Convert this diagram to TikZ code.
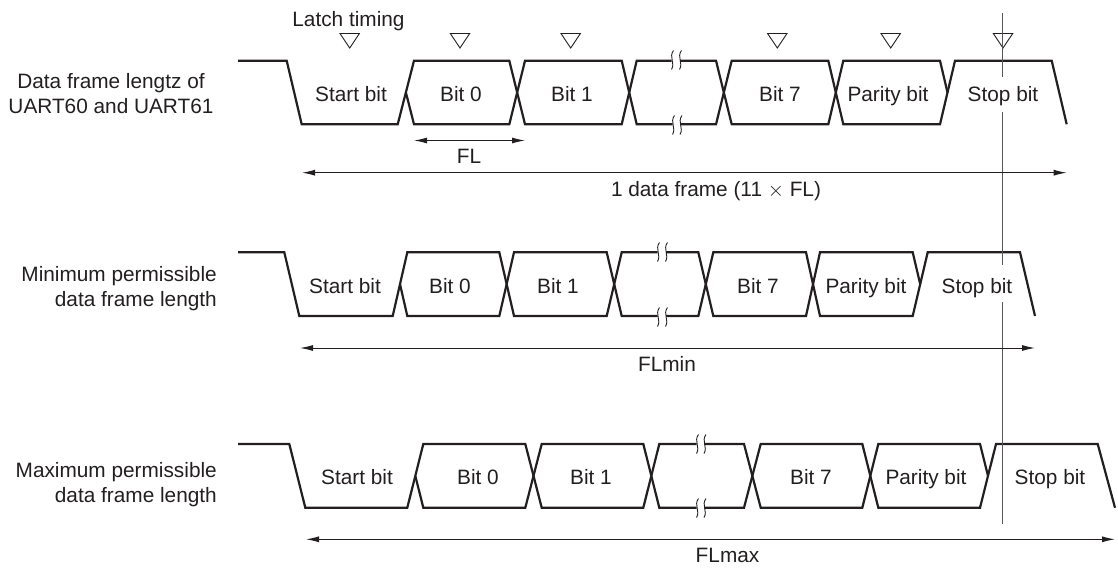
\documentclass[tikz,border=0pt]{standalone}
\usepackage{fontspec}
\setmainfont{Liberation Sans}
\usetikzlibrary{arrows.meta}
\definecolor{ink}{HTML}{231F20}
\tikzset{
  sig/.style={draw=ink,line width=2.2pt,line join=miter,line cap=butt},
  brk/.style={draw=ink,line width=0.9pt},
  tri/.style={draw=ink,line width=0.9pt,line join=miter},
  dim/.style={draw=ink,line width=1pt,{Latex[length=13pt,width=6pt]}-{Latex[length=13pt,width=6pt]}},
  cursor/.style={draw=ink!75,line width=1.2pt},
  lab/.style={anchor=base,inner sep=0pt,text=ink,font=\fontsize{20.8}{25}\selectfont},
  rlab/.style={lab,anchor=base east},
}
\newcommand{\breakmark}[2]{%
  \draw[brk] (#1+1.5,#2-9.5) .. controls (#1-3.5,#2-3) and (#1+3.5,#2+3) .. (#1-0.5,#2+9.5);}
\newcommand{\latch}[1]{\draw[tri] (#1-9.7,33.5) -- (#1+9.7,33.5) -- (#1,48) -- cycle;}
\begin{document}
\begin{tikzpicture}[x=1pt,y=-1pt]
\useasboundingbox (0,0) rectangle (1118,568);
% ---- row 1
\def\T{60.7}\def\B{124.3}\def\M{92.5}
\draw[sig] (238,\T)--(286.7,\T)--(301.7,\B)--(397.7,\B)--(414,\T)--(509.3,\T)--(525,\B)--(621.7,\B)--(636.7,\T)--(671.5,\T);
\draw[sig] (405.9,\M)--(414,\B)--(509.3,\B)--(525,\T)--(621.7,\T)--(636.7,\B)--(672.5,\B);
\draw[sig] (680,\T)--(716,\T)--(731.7,\B)--(828.3,\B)--(843.3,\T)--(940,\T)--(947.5,\M);
\draw[sig] (680.5,\B)--(716,\B)--(731.7,\T)--(828.3,\T)--(843.3,\B)--(940,\B)--(955,\T)--(1051.7,\T)--(1066.7,\B);
\breakmark{672}{60}\breakmark{680}{60}\breakmark{673}{125}\breakmark{680.5}{125}
% ---- row 2
\def\T{252.3}\def\B{316}\def\M{284.2}
\draw[sig] (238,\T)--(284.3,\T)--(299.3,\B)--(392.7,\B)--(407.3,\T)--(499.3,\T)--(514,\B)--(606.7,\B)--(621.7,\T)--(657.5,\T);
\draw[sig] (400,\M)--(407.3,\B)--(499.3,\B)--(514,\T)--(606.7,\T)--(621.7,\B)--(657.5,\B);
\draw[sig] (666,\T)--(698.3,\T)--(713.3,\B)--(806,\B)--(820,\T)--(912.7,\T)--(920.2,\M);
\draw[sig] (666,\B)--(698.3,\B)--(713.3,\T)--(806,\T)--(820,\B)--(912.7,\B)--(927.7,\T)--(1020,\T)--(1035,\B);
\breakmark{658}{252}\breakmark{666}{252}\breakmark{658}{317}\breakmark{666}{317}
% ---- row 3
\def\T{444}\def\B{507.7}\def\M{475.8}
\draw[sig] (238,\T)--(289.3,\T)--(305.3,\B)--(407.3,\B)--(423.3,\T)--(525.3,\T)--(541.7,\B)--(643.3,\B)--(659.3,\T)--(696.5,\T);
\draw[sig] (415.3,\M)--(423.3,\B)--(525.3,\B)--(541.7,\T)--(643.3,\T)--(659.3,\B)--(696.5,\B);
\draw[sig] (704.3,\T)--(744,\T)--(760.7,\B)--(862.3,\B)--(878.3,\T)--(980,\T)--(988,\M);
\draw[sig] (704.3,\B)--(744,\B)--(760.7,\T)--(862.3,\T)--(878.3,\B)--(980,\B)--(996,\T)--(1097.7,\T)--(1115,\B);
\breakmark{697}{444}\breakmark{704.5}{444}\breakmark{697}{508}\breakmark{704.5}{508}
% ---- latch triangles
\latch{349.7}\latch{460}\latch{570.7}\latch{777.3}\latch{890.7}\latch{1003}
% ---- cursor
\coordinate (c0) at (1002.7,13);
\coordinate (c1) at (1002.7,77);
\coordinate (c2) at (1002.7,111.5);
\coordinate (c3) at (1002.7,265);
\coordinate (c4) at (1002.7,302);
\coordinate (c5) at (1002.7,523.5);
\draw[cursor] (c0)--(c1);
\draw[cursor] (c2)--(c3);
\draw[cursor] (c4)--(c5);
% ---- dimension lines
\coordinate (fla) at (414,140.5);  \coordinate (flb) at (525,140.5);
\coordinate (dfa) at (302,172.7);  \coordinate (dfb) at (1066.7,172.7);
\coordinate (mna) at (300,348);    \coordinate (mnb) at (1035,348);
\coordinate (mxa) at (306,539.3);  \coordinate (mxb) at (1115,539.3);
\draw[dim] (fla)--(flb);
\draw[dim] (dfa)--(dfb);
\draw[dim] (mna)--(mnb);
\draw[dim] (mxa)--(mxb);
% ---- texts
\node[lab] (latchT) at (348.5,26) {Latch timing};
\node[lab] (s1) at (351,101) {Start bit};
\node[lab] (b01) at (461,101) {Bit 0};
\node[lab] (b11) at (572,101) {Bit 1};
\node[lab] (b71) at (780,101) {Bit 7};
\node[lab] (p1) at (888,101) {Parity bit};
\node[lab] (st1) at (1003,101) {Stop bit};
\node[lab] (s2) at (345,293.3) {Start bit};
\node[lab] (b02) at (450,293.3) {Bit 0};
\node[lab] (b12) at (558,293.3) {Bit 1};
\node[lab] (b72) at (758,293.3) {Bit 7};
\node[lab] (p2) at (866,293.3) {Parity bit};
\node[lab] (st2) at (977,293.3) {Stop bit};
\node[lab] (s3) at (357,484.7) {Start bit};
\node[lab] (b03) at (478,484.7) {Bit 0};
\node[lab] (b13) at (591,484.7) {Bit 1};
\node[lab] (b73) at (811,484.7) {Bit 7};
\node[lab] (p3) at (926,484.7) {Parity bit};
\node[lab] (st3) at (1050,484.7) {Stop bit};
\node[lab] (fl) at (469,163.3) {FL};
\node[lab] (df) at (716,196.7) {1 data frame (11 $\times$ FL)};
\node[lab] (flmin) at (667,371) {FLmin};
\node[lab] (flmax) at (727.5,562.7) {FLmax};
\node[lab] (l1a) at (111,88.3) {Data frame lengtz of};
\node[lab] (l1b) at (111,113.3) {UART60 and UART61};
\node[rlab] (l2a) at (217,281) {Minimum permissible};
\node[rlab] (l2b) at (217,306.7) {data frame length};
\node[rlab] (l3a) at (217,477.3) {Maximum permissible};
\node[rlab] (l3b) at (217,502.7) {data frame length};
\end{tikzpicture}
\end{document}
